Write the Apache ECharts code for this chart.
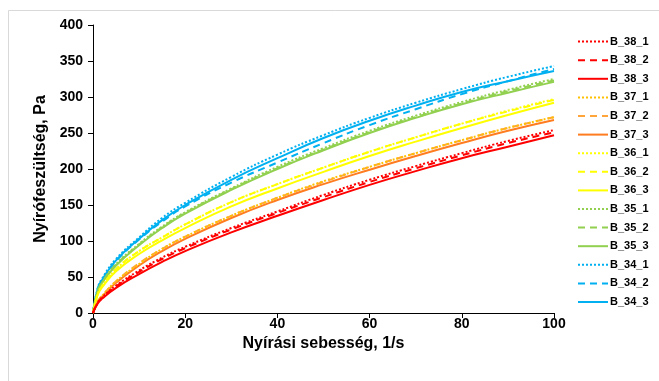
<!DOCTYPE html>
<html><head><meta charset="utf-8">
<script src="https://cdn.jsdelivr.net/npm/echarts@6/dist/echarts.min.js"></script>
<style>html,body{margin:0;padding:0;background:#fff}#c{width:659px;height:381px}</style>
</head><body><div id="c"></div>
<script>
const shearRate = [0, 1, 2, 5, 10, 15, 20, 30, 40, 50, 60, 70, 80, 90, 100];
const B_38_1 = [0, 14, 22, 38, 59, 77, 92, 118, 141, 164, 185, 204, 222, 239, 254];
const B_38_2 = [0, 14, 21, 37, 57, 75, 90, 116, 139, 161, 182, 201, 219, 236, 251];
const B_38_3 = [0, 13, 20, 35, 54, 71, 86, 112, 135, 157, 178, 197, 215, 231, 247];
const B_37_1 = [0, 16, 24, 44, 68, 89, 106, 135, 160, 183, 203, 222, 240, 257, 272];
const B_37_2 = [0, 16, 24, 44, 69, 89, 106, 135, 160, 182, 203, 222, 240, 257, 272];
const B_37_3 = [0, 15, 23, 42, 66, 86, 103, 132, 157, 179, 199, 218, 236, 253, 268];
const B_36_1 = [0, 26, 38, 61, 86, 105, 123, 154, 179, 202, 224, 244, 263, 281, 297];
const B_36_2 = [0, 26, 38, 61, 86, 105, 123, 154, 179, 202, 224, 244, 263, 280, 296];
const B_36_3 = [0, 25, 36, 58, 82, 101, 118, 148, 173, 196, 218, 238, 257, 275, 292];
const B_35_1 = [0, 31, 43, 68, 96, 120, 140, 173, 203, 229, 253, 274, 293, 310, 325];
const B_35_2 = [0, 30, 43, 67, 95, 119, 139, 172, 201, 227, 251, 272, 291, 308, 323];
const B_35_3 = [0, 30, 42, 66, 94, 118, 138, 171, 200, 226, 250, 271, 290, 306, 321];
const B_34_1 = [0, 34, 48, 75, 105, 132, 153, 189, 220, 247, 271, 292, 311, 328, 343];
const B_34_2 = [0, 33, 46, 72, 102, 127, 148, 181, 209, 236, 261, 283, 304, 322, 339];
const B_34_3 = [0, 33, 46, 73, 103, 129, 150, 185, 215, 243, 267, 288, 307, 322, 336];

const seriesNames = ['B_38_1','B_38_2','B_38_3','B_37_1','B_37_2','B_37_3','B_36_1','B_36_2','B_36_3','B_35_1','B_35_2','B_35_3','B_34_1','B_34_2','B_34_3'];
const seriesData = [B_38_1,B_38_2,B_38_3,B_37_1,B_37_2,B_37_3,B_36_1,B_36_2,B_36_3,B_35_1,B_35_2,B_35_3,B_34_1,B_34_2,B_34_3];
const colors = ['#FF0000','#FF0000','#FF0000','#FFC000','#FFA53A','#FF7C20','#FFFF00','#FFFF00','#FFFF00','#92D050','#92D050','#92D050','#00B0F0','#00B0F0','#00B0F0'];
const styles = ['dotted','dashed','solid'];

const font = '"Liberation Sans", Arial, sans-serif';
const series = seriesNames.map((n, i) => {
  const st = styles[i % 3];
  return {
    name: n, type: 'line', smooth: 0.5, showSymbol: false, symbol: 'none',
    data: shearRate.map((x, k) => [x, seriesData[i][k]]),
    lineStyle: { color: colors[i], width: 2, type: st === 'dotted' ? [2, 2] : (st === 'dashed' ? [7, 5] : 'solid') },
    itemStyle: { color: colors[i] },
    z: 15 - i
  };
});

const chart = echarts.init(document.getElementById('c'), null, { renderer: 'canvas' });
chart.setOption({
  animation: false,
  backgroundColor: '#fff',
  graphic: [{ type: 'rect', shape: { x: 8.5, y: 10.5, width: 700, height: 400 }, style: { fill: 'none', stroke: '#d9d9d9', lineWidth: 1 }, silent: true }],
  grid: { left: 93, right: 105, top: 25, bottom: 68 },
  xAxis: {
    type: 'value', min: 0, max: 100, interval: 20,
    name: 'Nyírási sebesség, 1/s', nameLocation: 'middle', nameGap: 20,
    nameTextStyle: { fontFamily: font, fontWeight: 'bold', fontSize: 16, color: '#000' },
    axisLine: { show: true, lineStyle: { color: '#000', width: 1 } },
    axisTick: { show: true, length: 5, lineStyle: { color: '#000' } },
    axisLabel: { fontFamily: font, fontWeight: 'bold', fontSize: 14, color: '#000', margin: 4 },
    splitLine: { show: false }
  },
  yAxis: {
    type: 'value', min: 0, max: 400, interval: 50,
    name: 'Nyírófeszültség, Pa', nameLocation: 'middle', nameGap: 44, nameRotate: 90,
    nameTextStyle: { fontFamily: font, fontWeight: 'bold', fontSize: 16, color: '#000' },
    axisLine: { show: true, lineStyle: { color: '#000', width: 1 } },
    axisTick: { show: true, length: 5, lineStyle: { color: '#000' } },
    axisLabel: { fontFamily: font, fontWeight: 'bold', fontSize: 14, color: '#000', margin: 10 },
    splitLine: { show: false }
  },
  legend: {
    orient: 'vertical', left: 572, top: 31, itemWidth: 30, itemHeight: 14, itemGap: 7.4,
    data: seriesNames,
    itemStyle: { opacity: 0 },
    textStyle: { fontFamily: font, fontWeight: 'bold', fontSize: 11, color: '#000', padding: [0, 0, 0, -3] }
  },
  series: series
});
</script></body></html>
